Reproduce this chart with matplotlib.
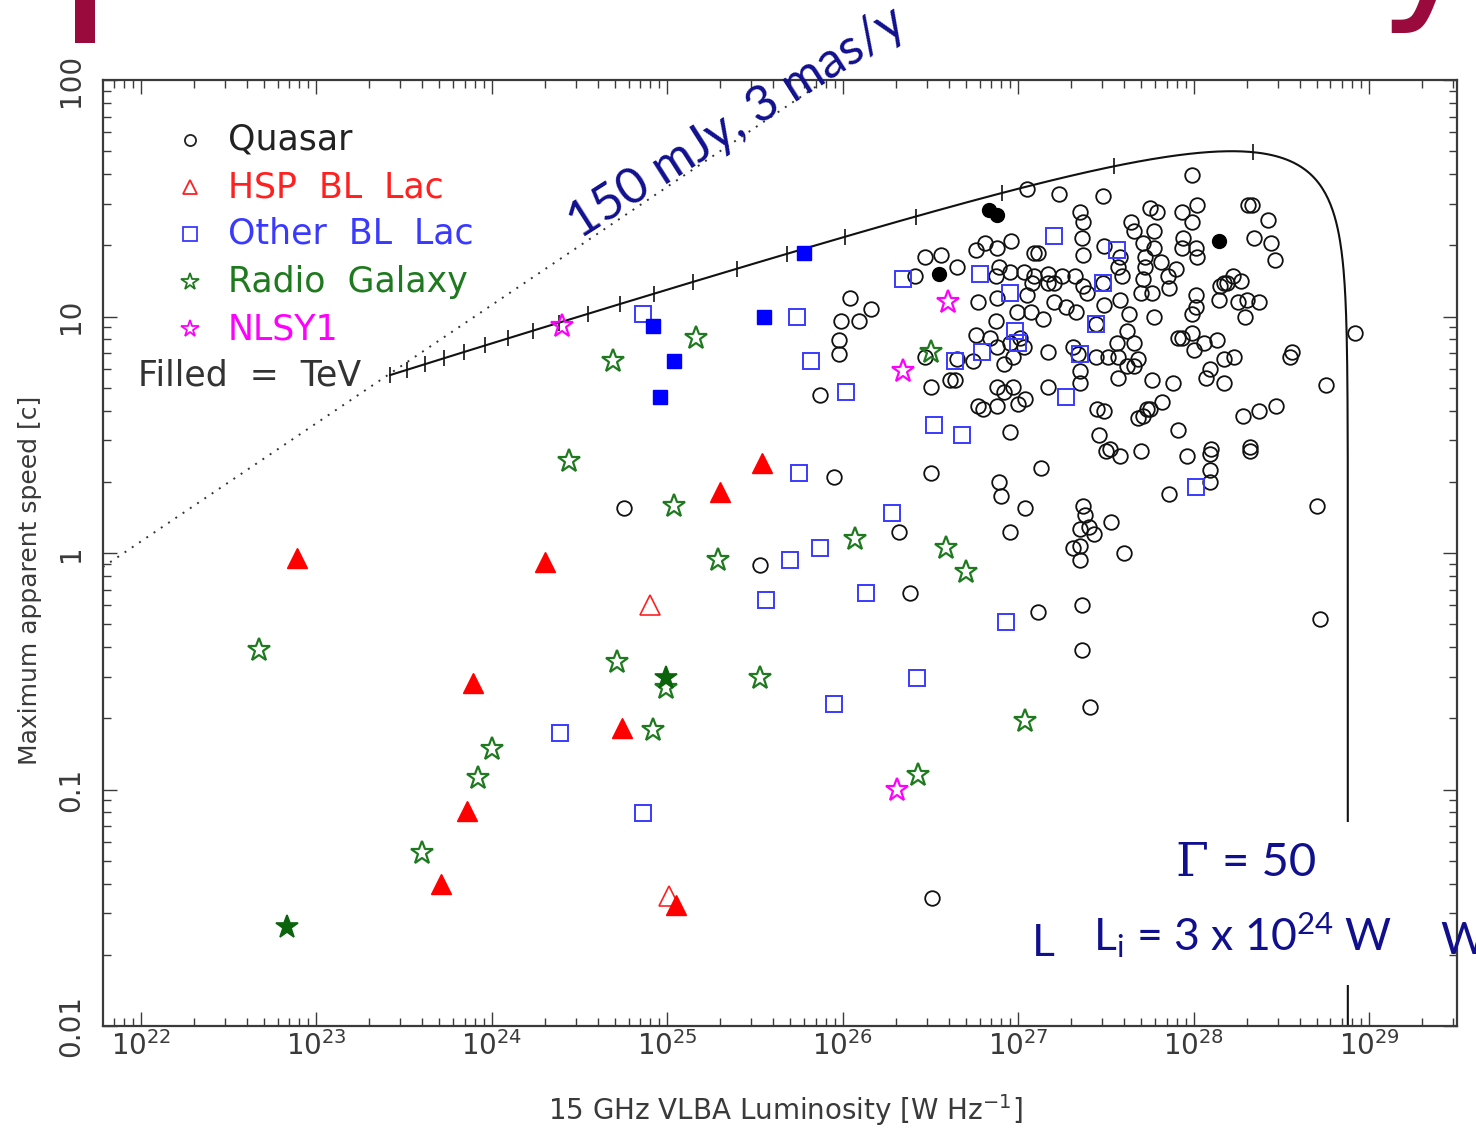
import numpy as np
import matplotlib
matplotlib.use("Agg")
import matplotlib.pyplot as plt
from matplotlib.patches import Rectangle
from matplotlib.ticker import FixedLocator, NullFormatter

plt.rcParams['font.family'] = ['DejaVu Sans']
plt.rcParams['mathtext.default'] = 'regular'

# ---------------- data (log10 values) ----------------
quasar_logL = [
    24.75, 25.53, 25.95, 25.87, 25.98, 25.98, 25.99, 26.09, 26.04, 26.16,
    26.38, 26.32, 26.50, 26.51,
    27.05, 27.23, 27.48, 27.99, 26.47, 26.56, 26.76, 26.81, 26.88, 26.96,
    27.09, 27.11, 27.35, 27.37, 27.36, 27.37, 27.49, 27.58, 27.75, 27.79,
    27.64, 27.66, 27.77, 27.71, 27.77, 27.72, 27.93, 27.99, 28.02, 27.94,
    27.93, 28.01, 28.02, 28.31, 28.33, 28.42, 28.34, 28.44, 28.46, 27.81,
    26.41, 26.65, 26.89, 26.87, 26.95, 27.03, 27.09, 27.17, 27.17, 27.08,
    27.57, 27.59, 27.48, 27.25, 27.32, 27.37, 27.39, 27.20, 27.72, 27.71,
    27.70, 27.76, 27.85, 27.90, 27.86, 28.22, 28.27, 28.17, 28.19, 28.15,
    26.77, 26.88, 27.05, 26.99, 27.07, 27.14, 27.20, 27.27, 27.33, 27.49,
    27.58, 27.63, 27.77, 28.01, 28.01, 27.99, 28.14, 28.25, 28.30, 28.37, 28.29,
    26.87, 26.76, 26.84, 26.88, 26.95, 27.01, 27.03, 26.92, 26.97, 26.74,
    26.65, 26.47, 26.64, 26.61, 26.50, 26.88, 26.92, 26.97, 27.17, 26.77,
    26.80, 26.88, 27.00, 27.04, 27.62, 27.44, 27.56, 27.66, 27.31, 27.35,
    27.35, 27.44, 27.51, 27.57, 27.62, 27.66, 27.68, 27.57, 27.17, 27.34,
    27.91, 27.93, 27.99, 28.06, 28.13, 28.00, 28.17, 28.09, 28.07, 28.17,
    27.76, 27.88, 27.82, 27.45, 27.49, 27.73, 27.75, 27.71, 28.23,
    28.56, 28.55, 28.92, 28.75, 28.47, 28.37, 28.28,
    26.95, 27.46, 27.52, 27.50, 27.58, 27.13, 26.89, 26.90, 27.04, 27.37,
    27.38, 27.53, 27.35, 27.40, 27.43, 27.31, 27.35, 27.35, 26.95, 27.60,
    27.11, 27.36, 27.36, 27.41, 27.68, 27.91, 27.70, 27.96, 28.10, 28.09,
    28.32, 28.32, 28.09, 28.09, 27.86, 28.70, 28.72,
]
quasar_logspeed = [
    0.19, -0.05, 0.32, 0.67, 0.84, 0.90, 0.98, 0.98, 1.08, 1.03,
    -0.17, 0.09, 0.34, -1.46,
    1.54, 1.52, 1.51, 1.60, 1.25, 1.26, 1.28, 1.31, 1.29, 1.32,
    1.27, 1.27, 1.44, 1.40, 1.33, 1.26, 1.30, 1.25, 1.46, 1.44,
    1.40, 1.36, 1.36, 1.31, 1.29, 1.25, 1.44, 1.40, 1.47, 1.33,
    1.29, 1.29, 1.25, 1.47, 1.47, 1.41, 1.33, 1.31, 1.24, 1.23,
    1.17, 1.21, 1.21, 1.17, 1.19, 1.19, 1.17, 1.18, 1.14, 1.14,
    1.21, 1.17, 1.14, 1.17, 1.17, 1.13, 1.10, 1.14, 1.21, 1.16,
    1.10, 1.10, 1.17, 1.20, 1.12, 1.17, 1.15, 1.14, 1.14, 1.13,
    1.06, 1.08, 1.09, 1.02, 1.02, 0.99, 1.06, 1.04, 1.02, 1.05,
    1.07, 1.01, 1.00, 1.09, 1.04, 1.01, 1.07, 1.06, 1.07, 1.06, 1.00,
    0.98, 0.92, 0.91, 0.87, 0.89, 0.91, 0.87, 0.80, 0.83, 0.81,
    0.82, 0.83, 0.73, 0.73, 0.70, 0.70, 0.68, 0.70, 0.70, 0.62,
    0.61, 0.62, 0.63, 0.65, 0.94, 0.97, 0.89, 0.89, 0.87, 0.77,
    0.72, 0.83, 0.83, 0.83, 0.79, 0.79, 0.82, 0.74, 0.85, 0.84,
    0.91, 0.91, 0.93, 0.89, 0.90, 0.86, 0.82, 0.78, 0.74, 0.72,
    0.73, 0.72, 0.64, 0.61, 0.60, 0.61, 0.61, 0.58, 0.83,
    0.85, 0.83, 0.93, 0.71, 0.62, 0.60, 0.58,
    0.51, 0.50, 0.44, 0.43, 0.41, 0.36, 0.30, 0.24, 0.19, 0.20,
    0.16, 0.13, 0.10, 0.11, 0.08, 0.02, 0.03, -0.03, 0.09, 0.00,
    -0.25, -0.22, -0.41, -0.65, 0.57, 0.52, 0.43, 0.41, 0.44, 0.42,
    0.45, 0.43, 0.35, 0.30, 0.25, 0.20, -0.28,
]
quasar_tev_logL = [26.55, 26.83, 26.88, 28.14]
quasar_tev_logspeed = [1.18, 1.45, 1.43, 1.32]

hsp_tev_logL = [22.89, 23.89, 24.30, 23.86, 23.71, 24.74, 25.30, 25.54, 25.05]
hsp_tev_logspeed = [-0.02, -0.55, -0.04, -1.09, -1.40, -0.74, 0.26, 0.38, -1.49]
hsp_logL = [24.90, 25.01]
hsp_logspeed = [-0.22, -1.45]

bll_tev_logL = [25.78, 24.92, 25.04, 24.96, 25.55]
bll_tev_logspeed = [1.27, 0.96, 0.81, 0.66, 1.00]
bll_logL = [24.86, 25.74, 25.82, 26.02, 25.75, 26.34, 26.78, 27.20, 27.56, 27.48,
            26.95, 26.98, 27.00, 26.79, 26.64, 27.44, 27.35, 27.27, 26.52, 26.68,
            28.01, 26.28, 25.70, 25.87, 26.13, 25.56, 26.93, 26.42, 25.95, 24.39,
            24.86]
bll_logspeed = [1.01, 1.00, 0.81, 0.68, 0.34, 1.16, 1.18, 1.34, 1.28, 1.14,
                1.10, 0.94, 0.89, 0.85, 0.81, 0.97, 0.84, 0.66, 0.54, 0.50,
                0.28, 0.17, -0.03, 0.02, -0.17, -0.20, -0.29, -0.53, -0.64, -0.76,
                -1.10]

rg_tev_logL = [22.83, 24.99]
rg_tev_logspeed = [-1.58, -0.53]
rg_logL = [22.67, 23.60, 23.92, 24.00, 24.44, 24.69, 25.16, 24.71, 24.92, 24.99,
           25.04, 25.29, 25.53, 26.07, 26.59, 26.70, 26.43, 27.04, 26.50]
rg_logspeed = [-0.41, -1.27, -0.95, -0.83, 0.39, 0.81, 0.91, -0.46, -0.75, -0.57,
               0.20, -0.03, -0.53, 0.06, 0.02, -0.08, -0.94, -0.71, 0.85]

nlsy1_logL = [24.40, 26.60, 26.34, 26.31]
nlsy1_logspeed = [0.96, 1.06, 0.77, -1.00]

legend_labels = ["Quasar", "HSP  BL  Lac", "Other  BL  Lac", "Radio  Galaxy", "NLSY1"]

# model parameters shown on the chart
GAMMA = 50.0
L_INT = 3e24
LUM_INDEX = 2.2
FLUX_LIMIT_JY = 0.150
MU_MAS_YR = 3.0

xtick_exponents = [22, 23, 24, 25, 26, 27, 28, 29]
ytick_values = [0.01, 0.1, 1, 10, 100]
ytick_labels = ["0.01", "0.1", "1", "10", "100"]

# ---------------- figure ----------------
W, H = 1476, 1130
fig = plt.figure(figsize=(W / 100, H / 100), dpi=100)
fx = lambda px: px / W
fy = lambda py: 1 - py / H

ax = fig.add_axes([fx(103), fy(1026), (1457 - 103) / W, (1026 - 80) / H])
ax.set_xscale('log')
ax.set_yscale('log')
ax.set_xlim(10 ** 21.7835, 10 ** 29.499)
ax.set_ylim(0.01, 100)

tick_col = '#3a3a3a'
ax.xaxis.set_major_locator(FixedLocator([10.0 ** e for e in xtick_exponents]))
ax.set_xticklabels(['$10^{%d}$' % e for e in xtick_exponents])
xminor = [m * 10.0 ** e for e in range(21, 30) for m in range(2, 10)]
ax.xaxis.set_minor_locator(FixedLocator(xminor))
ax.xaxis.set_minor_formatter(NullFormatter())
ax.yaxis.set_major_locator(FixedLocator(ytick_values))
ax.set_yticklabels(ytick_labels)
yminor = [m * 10.0 ** e for e in range(-2, 2) for m in range(2, 10)]
ax.yaxis.set_minor_locator(FixedLocator(yminor))
ax.yaxis.set_minor_formatter(NullFormatter())
ax.tick_params(which='both', direction='in', top=True, right=True, color=tick_col, width=1.0)
ax.tick_params(which='major', length=10)
ax.tick_params(which='minor', length=5.5)
ax.tick_params(axis='x', which='major', labelsize=20, labelcolor=tick_col, pad=4)
ax.tick_params(axis='y', which='major', labelsize=20, labelcolor=tick_col, pad=13)
for lab in ax.get_yticklabels():
    lab.set_rotation(90)
    lab.set_va('center')
for s in ax.spines.values():
    s.set_color('#3a3a3a')
    s.set_linewidth(1.6)

# dotted detection-limit line: 150 mJy, 3 mas/yr
Lline = np.logspace(21.7, 27.5, 400)
mu = MU_MAS_YR * 4.8481e-9 / 3.15576e7
S = FLUX_LIMIT_JY * 1e-26
beta_lim = mu * np.sqrt(Lline / (4 * np.pi * S)) / 2.998e8
ax.plot(Lline, beta_lim, color='#333333', lw=1.4, ls=(0, (1, 3.5)), zorder=2)

# Gamma = 50 envelope
th = np.radians(np.concatenate([np.geomspace(1e-6, 1, 400), np.linspace(1, 20, 1500)]))
bet = np.sqrt(1 - 1 / GAMMA ** 2)
dop = 1 / (GAMMA * (1 - bet * np.cos(th)))
bapp = bet * np.sin(th) / (1 - bet * np.cos(th))
ax.plot(L_INT * dop ** LUM_INDEX, bapp, color='#111111', lw=1.5, zorder=2)
tht = np.radians(np.arange(1, 21))
dopt = 1 / (GAMMA * (1 - bet * np.cos(tht)))
bappt = bet * np.sin(tht) / (1 - bet * np.cos(tht))
ax.plot(L_INT * dopt ** LUM_INDEX, bappt, ls='none', marker='|', ms=11, mew=1.2,
        color='#111111', zorder=2)

def pts(lx, ly):
    return 10 ** np.asarray(lx), 10 ** np.asarray(ly)

# quasars
x, y = pts(quasar_logL, quasar_logspeed)
ax.plot(x, y, ls='none', marker='o', ms=10.5, mfc='none', mec='#111111', mew=1.3, zorder=3)
x, y = pts(quasar_tev_logL, quasar_tev_logspeed)
ax.plot(x, y, ls='none', marker='o', ms=10, mfc='black', mec='black', mew=1.0, zorder=3)
# other BL Lac
x, y = pts(bll_logL, bll_logspeed)
ax.plot(x, y, ls='none', marker='s', ms=11, mfc='none', mec='#3a3aff', mew=1.4, zorder=4)
x, y = pts(bll_tev_logL, bll_tev_logspeed)
ax.plot(x, y, ls='none', marker='s', ms=10, mfc='#0000ff', mec='#0000ff', mew=1.0, zorder=4)
# HSP BL Lac
x, y = pts(hsp_logL, hsp_logspeed)
ax.plot(x, y, ls='none', marker='^', ms=14, mfc='none', mec='#ff2020', mew=1.2, zorder=4)
x, y = pts(hsp_tev_logL, hsp_tev_logspeed)
ax.plot(x, y, ls='none', marker='^', ms=14, mfc='#ff0000', mec='#ff0000', mew=1.0, zorder=4)
# radio galaxies
x, y = pts(rg_logL, rg_logspeed)
ax.plot(x, y, ls='none', marker='*', ms=17, mfc='none', mec='#1f7a1f', mew=1.6, zorder=4)
x, y = pts(rg_tev_logL, rg_tev_logspeed)
ax.plot(x, y, ls='none', marker='*', ms=17, mfc='#0b640b', mec='#0b640b', mew=1.2, zorder=4)
# NLSY1
x, y = pts(nlsy1_logL, nlsy1_logspeed)
ax.plot(x, y, ls='none', marker='*', ms=17, mfc='none', mec='#ff00ff', mew=1.6, zorder=4)

# legend (hand placed like the original)
leg_y = [(1026 - py) / 946 for py in (140, 187, 234, 282, 329)]
leg_cols = ['#222222', '#ff2020', '#3a3aff', '#1f7a1f', '#ff00ff']
leg_marks = ['o', '^', 's', '*', '*']
leg_ms = [8, 10, 10, 13, 13]
mx = (190 - 103) / 1354
tx = (228 - 103) / 1354
for lab, yy, c, m, ms in zip(legend_labels, leg_y, leg_cols, leg_marks, leg_ms):
    ax.plot([mx], [yy], transform=ax.transAxes, ls='none', marker=m, ms=ms,
            mfc='none', mec=c, mew=1.3, clip_on=False)
    ax.text(tx, yy, lab, transform=ax.transAxes, color=c, fontsize=25,
            va='center', ha='left')
ax.text((138 - 103) / 1354, (1026 - 376) / 946, "Filled  =  TeV", transform=ax.transAxes,
        color='#333333', fontsize=25, va='center', ha='left')

# axis titles
fig.text(fx(785), fy(1110), "15 GHz VLBA Luminosity [W Hz$^{-1}$]", ha='center',
         va='center', fontsize=20, color=tick_col)
fig.text(fx(30), fy(580), "Maximum apparent speed [c]", ha='center', va='center',
         rotation=90, fontsize=18, color=tick_col)

# annotations
navy = '#10108f'
fig.text(fx(737), fy(123), "150 mJy, 3 mas/y", rotation=32.5, ha='center', va='center',
         fontsize=36, color=navy, family=['Lato', 'DejaVu Sans'])

box = Rectangle((fx(1028), fy(985)), (1440 - 1028) / W, (985 - 822) / H,
                transform=fig.transFigure, facecolor='white', edgecolor='none', zorder=10)
fig.add_artist(box)
fig.text(fx(1192), fy(863), "\u0393", ha='center', va='center', fontsize=34, color=navy,
         family=['DejaVu Serif'], zorder=11)
fig.text(fx(1222), fy(863), "= 50", ha='left', va='center', fontsize=34, color=navy,
         family=['Lato', 'DejaVu Sans'], zorder=11)
fig.text(fx(1093), fy(935), "$L_i$ = 3 x 10$^{24}$ W", ha='left', va='center', fontsize=32,
         color=navy, family=['Lato', 'DejaVu Sans'], zorder=11)
fig.text(fx(1032), fy(944), "L", ha='left', va='center', fontsize=32, color=navy,
         family=['Lato', 'DejaVu Sans'], zorder=11)
fig.text(fx(1440), fy(942), "W", ha='left', va='center', fontsize=32, color=navy,
         family=['Lato', 'DejaVu Sans'], zorder=11)

# fragments of the slide title above the chart (cropped in the original too)
fig.text(fx(55), 1 + 3 / H, "p", ha='left', va='baseline', fontsize=159, color='#9b0a3c')
fig.text(fx(1378), 1 + 3 / H, "y", ha='left', va='baseline', fontsize=125, color='#9b0a3c')

fig.savefig("out.png", dpi=100)
